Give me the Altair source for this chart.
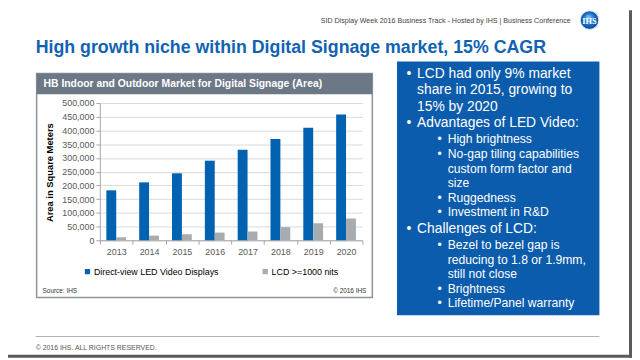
import altair as alt
import pandas as pd

# ---------------- data ----------------
years = ["2013", "2014", "2015", "2016", "2017", "2018", "2019", "2020"]
led_area = [182000, 211000, 244000, 290000, 330000, 369000, 410000, 458000]
lcd_area = [11000, 17000, 22000, 28000, 32000, 48000, 62000, 79000]
series = ["Direct-view LED Video Displays", "LCD >=1000 nits"]
y_ticks = [0, 50000, 100000, 150000, 200000, 250000, 300000, 350000, 400000, 450000, 500000]

slide_title = "High growth niche within Digital Signage market, 15% CAGR"
top_header = "SID Display Week 2016 Business Track - Hosted by IHS |  Business Conference"
chart_title = "HB Indoor and Outdoor Market for Digital Signage (Area)"
y_title = "Area in Square Meters"
source_note = "Source: IHS"
chart_copy = "\u00a9 2016 IHS"
footer_text = "\u00a9 2016 IHS. ALL RIGHTS RESERVED."
bullet_groups = [
    (0, ["LCD had only 9% market", "share in 2015, growing to", "15% by 2020"]),
    (0, ["Advantages of LED Video:"]),
    (1, ["High brightness"]),
    (1, ["No-gap tiling capabilities", "custom form factor and", "size"]),
    (1, ["Ruggedness"]),
    (1, ["Investment in R&D"]),
    (0, ["Challenges of LCD:"]),
    (1, ["Bezel to bezel gap is", "reducing to 1.8 or 1.9mm,", "still not close"]),
    (1, ["Brightness"]),
    (1, ["Lifetime/Panel warranty"]),
]

df = pd.DataFrame({
    "year": years * 2,
    "series": [series[0]] * len(years) + [series[1]] * len(years),
    "area": led_area + lcd_area,
})

# ---------------- layout helpers ----------------
FONT = "Liberation Sans"
OX, OY = 101, 102          # page position of plot origin
PW, PH = 266, 139
PAD = {"left": OX - 8, "top": OY - 8, "right": 632 - (OX - 8) - PW, "bottom": 352 - (OY - 8) - PH}
ONE = alt.Data(values=[{"k": 1}])


def px(x):
    return x - OX


def py(y):
    return y - OY


def text(s, x, y, size, color, weight="normal", align="left", baseline="middle", font=FONT):
    return alt.Chart(ONE).mark_text(
        text=s, fontSize=size, color=color, fontWeight=weight,
        align=align, baseline=baseline, font=font,
    ).encode(x=alt.value(px(x)), y=alt.value(py(y)))


def rect(x1, y1, x2, y2, **kw):
    return alt.Chart(ONE).mark_rect(**kw).encode(
        x=alt.value(px(x1)), x2=alt.value(px(x2)),
        y=alt.value(py(y1)), y2=alt.value(py(y2)),
    )


BLUE = "#0062b1"
GRAY = "#a7acb1"
TITLE_BLUE = "#1063b3"
BOX_BLUE = "#0c5cad"

layers = []
# chart box
layers.append(rect(37, 72, 377, 299, fillOpacity=0, stroke="#8e949b", strokeWidth=1.5))
layers.append(rect(37, 72, 377, 93, color="#6c7886"))
layers.append(text(chart_title, 44, 83, 10.5, "white", weight="bold"))
layers.append(text(source_note, 43, 292, 6.5, "#333333"))
layers.append(text(chart_copy, 371, 292, 6.5, "#333333", align="right"))

# bars
bars = alt.Chart(df).mark_bar().encode(
    x=alt.X("year:N", sort=years,
            scale=alt.Scale(paddingInner=0, paddingOuter=0),
            axis=alt.Axis(title=None, labelAngle=0, labelFontSize=9, labelColor="#595959",
                          labelFont=FONT, tickBand="extent", tickSize=4, tickColor="#a6a6a6",
                          domainColor="#a6a6a6", labelPadding=3, grid=False)),
    xOffset=alt.XOffset("series:N", sort=series,
                        scale=alt.Scale(paddingInner=0, paddingOuter=0.66)),
    y=alt.Y("area:Q", scale=alt.Scale(domain=[0, 500000], nice=False),
            axis=alt.Axis(values=y_ticks, format=",.0f", title=y_title, labelFontSize=9,
                          labelColor="#595959", labelFont=FONT, tickSize=4,
                          tickColor="#a6a6a6", domainColor="#a6a6a6", gridColor="#d9d9d9",
                          labelPadding=2, titleFontSize=9.5, titleFont=FONT,
                          titleFontWeight="bold", titleColor="#000000",
                          titleX=px(50), titleY=py(172), titleAngle=-90,
                          titleAlign="center", titleBaseline="middle")),
    color=alt.Color("series:N", sort=series,
                    scale=alt.Scale(domain=series, range=[BLUE, GRAY]),
                    legend=alt.Legend(title=None, orient="none", direction="horizontal",
                                      legendX=px(84), legendY=py(268), symbolType="square",
                                      symbolSize=28, symbolStrokeWidth=0, labelFontSize=9,
                                      labelFont=FONT, labelColor="#000000", labelOffset=2,
                                      columnPadding=42)),
)
layers.append(bars)

# slide header / title
layers.append(text(top_header, 578, 18.5, 7.2, "#444444", align="right"))
logo_grad = alt.RadialGradient(
    gradient="radial",
    stops=[alt.GradientStop(offset=0, color="#8fd0ff"),
           alt.GradientStop(offset=0.55, color="#1a74c8"),
           alt.GradientStop(offset=1, color="#0a3b86")],
    x1=0.45, y1=0.35, r1=0, x2=0.5, y2=0.5, r2=0.55,
)
layers.append(alt.Chart(ONE).mark_circle(color=logo_grad, size=350, opacity=1,
                                         stroke="#cfe3f5", strokeWidth=1).encode(
    x=alt.value(px(597)), y=alt.value(py(18))))
layers.append(text("IHS", 597, 18.5, 8.5, "white", weight="bold", align="center",
                   font="Liberation Serif"))
layers.append(text(slide_title, 36, 46.5, 18, TITLE_BLUE, weight="bold"))

# blue box
layers.append(rect(402, 60, 607, 317, color=BOX_BLUE))
y = 72.5
prev_level = 0
first = True
for level, lines in bullet_groups:
    for i, line in enumerate(lines):
        if not first:
            y += 16.6 if (level == 0 or prev_level == 0) else 14.75
        first = False
        size = 14 if level == 0 else 12.3
        bx = 411.5 if level == 0 else 443
        tx = 422.3 if level == 0 else 453.3
        if i == 0:
            layers.append(text("\u2022", bx, y, size, "white"))
        layers.append(text(line, tx, y, size, "white"))
        prev_level = level

# footer
layers.append(rect(36, 338, 607, 339, color="#b3b3b3"))
layers.append(text(footer_text, 36, 350, 7, "#555555"))
# slide frame (right / bottom)
layers.append(rect(637, 8, 640, 360, color="#5a5a5a"))
layers.append(rect(8, 357, 640, 360, color="#5a5a5a"))

chart = alt.layer(*layers).properties(
    width=PW, height=PH,
    autosize=alt.AutoSizeParams(type="none"),
    padding=PAD,
    background="white",
).configure_view(strokeWidth=0)

chart.save("out.html", embed_options={"renderer": "svg", "actions": False})
